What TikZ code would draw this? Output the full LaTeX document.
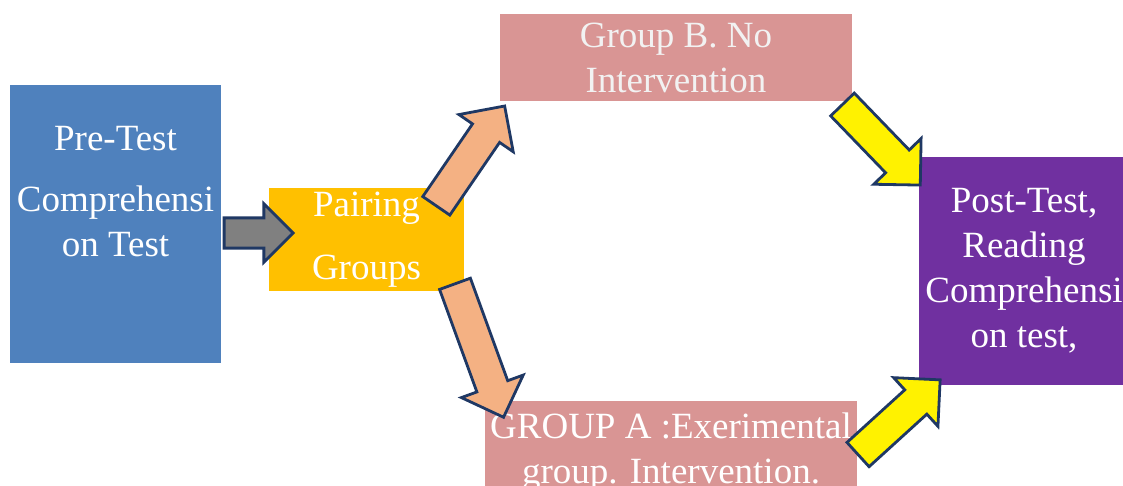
\documentclass[tikz,border=0pt]{standalone}
\usepackage{fontspec}
\setmainfont{Liberation Serif}
\usetikzlibrary{shapes.arrows}
\definecolor{preblue}{HTML}{4F81BD}
\definecolor{pairgold}{HTML}{FFC000}
\definecolor{grppink}{HTML}{D99594}
\definecolor{postpurple}{HTML}{7030A0}
\definecolor{arrorange}{HTML}{F4B183}
\definecolor{arrnavy}{HTML}{1F3864}
\begin{document}
\begin{tikzpicture}[x=0.5pt,y=-0.5pt,
		box/.style={draw=none,inner sep=0pt,text=white,align=center,font=\fontsize{18.5pt}{22.5pt}\selectfont},
		blockarrow/.style={single arrow,draw=arrnavy,line width=1.4pt,inner xsep=0pt,inner ysep=7.5pt,single arrow head extend=8.25pt,anchor=tail}]
	\useasboundingbox (0,0) rectangle (1123,486);
	\node[box,fill=preblue,minimum width=105.5pt,minimum height=139pt] (pre) at (115.5,224) {};
	\node[box] (pretext) at ([yshift=16pt]pre.center) {Pre-Test\\[8pt]Comprehensi\\on Test};
	\node[box,fill=pairgold,minimum width=97.5pt,minimum height=51.5pt] (pair) at (366.5,239.5) {Pairing\\[9pt]Groups};
	\node[box,fill=grppink,text=white!95!black,minimum width=176pt,minimum height=43.5pt] (grpB) at (676,58) {Group B. No\\Intervention};
	\node[box,fill=grppink,minimum width=186pt,minimum height=51pt] (grpA) at (671,452) {GROUP A :Exerimental\\group. Intervention.};
	\node[box,fill=postpurple,minimum width=105pt,minimum height=113.5pt] (post) at (1024,271) {Post-Test,\\Reading\\Comprehensi\\on test,};
	\node[blockarrow,fill=gray,inner ysep=6.85pt,single arrow head extend=7.07pt,minimum height=34.5pt] (toPair) at (222.7,233) {};
	\node[blockarrow,fill=arrorange,rotate=55.6,minimum height=60.5pt] (toB) at (435.5,207) {};
	\node[blockarrow,fill=arrorange,rotate=-70,minimum height=71pt] (toA) at (454.5,282.5) {};
	\node[blockarrow,fill=yellow,rotate=-46,minimum height=56pt] (fromB) at (841.5,103.5) {};
	\node[blockarrow,fill=yellow,rotate=42.3,minimum height=55.5pt] (fromA) at (857,455.5) {};
\end{tikzpicture}
\end{document}
